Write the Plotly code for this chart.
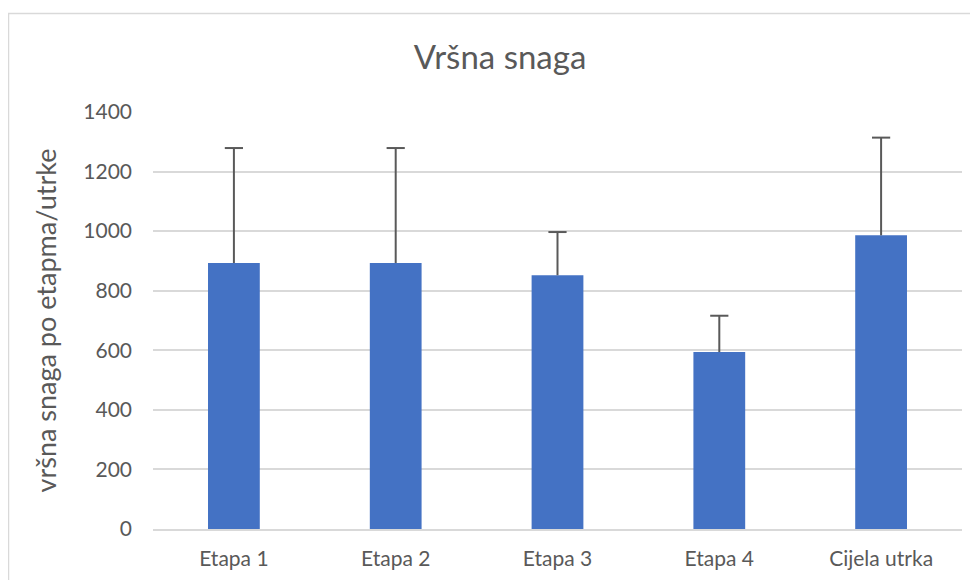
import plotly.graph_objects as go

FONT = "Lato, Open Sans, sans-serif"
TEXT = "#595959"
BAR = "#4472C4"
GRID = "#D9D9D9"
ERR = "#595959"

categories = ["Etapa 1", "Etapa 2", "Etapa 3", "Etapa 4", "Cijela utrka"]
peak_power = [893, 893, 852, 594, 986]
peak_sd = [386, 386, 145, 122, 328]

# page body has an 8px margin, so offsets below are compensated by 8
PAD = 8
plot_l, plot_r, plot_t, plot_b = 153, 962, 112, 529

fig = go.Figure()
fig.add_trace(
    go.Bar(
        x=categories,
        y=peak_power,
        marker=dict(color=BAR, line=dict(width=0)),
        error_y=dict(
            type="data",
            array=peak_sd,
            symmetric=False,
            arrayminus=[0] * len(peak_sd),
            color=ERR,
            thickness=2,
            width=0,
        ),
        hovertemplate="%{x}: %{y}<extra></extra>",
    )
)
# caps on top of the error bars only
fig.add_trace(
    go.Scatter(
        x=categories,
        y=[v + s for v, s in zip(peak_power, peak_sd)],
        mode="markers",
        marker=dict(symbol="line-ew-open", size=13, color=ERR, line=dict(color=ERR, width=2)),
        hoverinfo="skip",
    )
)

fig.update_layout(
    width=978,
    height=580,
    paper_bgcolor="white",
    plot_bgcolor="white",
    font=dict(family=FONT, color=TEXT, size=20),
    title=dict(
        text="Vršna snaga",
        x=(500 - PAD) / 978,
        xanchor="center",
        y=1 - (57 - PAD) / 580,
        yanchor="middle",
        font=dict(size=33, color=TEXT, family=FONT),
    ),
    margin=dict(l=plot_l - PAD, r=978 + PAD - plot_r, t=plot_t - PAD, b=580 + PAD - plot_b),
    bargap=0.68,
    showlegend=False,
    shapes=[
        # chart area border (only left and top edges fall inside the image)
        dict(
            type="rect", xref="paper", yref="paper",
            x0=(8.5 - plot_l) / (plot_r - plot_l), x1=1.05,
            y0=-0.3, y1=1 + (plot_t - 13.5) / (plot_b - plot_t),
            line=dict(color=GRID, width=1.5),
            layer="below",
        ),
    ],
)

fig.update_xaxes(
    showgrid=False,
    showline=True,
    linecolor=GRID,
    linewidth=1.5,
    ticks="",
    ticklabelstandoff=10,
    tickfont=dict(size=21, color=TEXT),
)
fig.update_yaxes(
    range=[0, 1400],
    dtick=200,
    showgrid=True,
    gridcolor=GRID,
    gridwidth=1.5,
    zeroline=False,
    showline=False,
    ticks="",
    ticklabelstandoff=20,
    tickfont=dict(size=21, color=TEXT),
    title=dict(text="vršna snaga po etapma/utrke", font=dict(size=27, color=TEXT), standoff=18),
)

fig.write_html("out.html")
